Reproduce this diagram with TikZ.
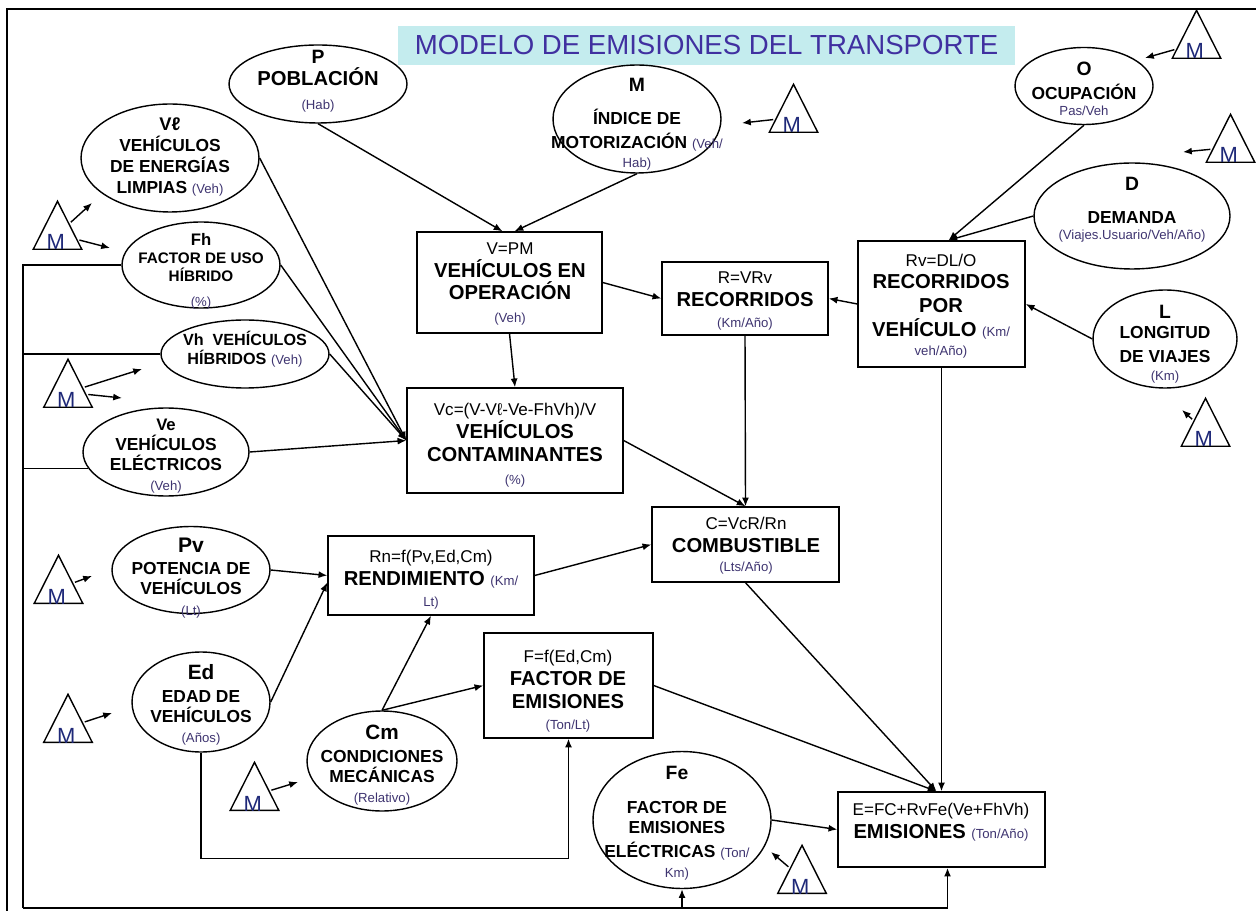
\documentclass[tikz,border=0pt]{standalone}
\usepackage{fontspec}
\setmainfont{Liberation Sans}
\usetikzlibrary{shapes.geometric,arrows.meta,calc}
\definecolor{titlecyan}{RGB}{196,236,238}
\definecolor{titleblue}{RGB}{64,48,160}
\definecolor{unitblue}{RGB}{62,52,112}
\definecolor{mnavy}{RGB}{30,40,120}
\newcommand{\sym}[1]{{\fontsize{11}{13}\selectfont\bfseries #1}}
\newcommand{\unt}[1]{{\fontsize{7.5}{9}\selectfont\mdseries\color{unitblue}#1}}
\newcommand{\frm}[1]{{\fontsize{9.7}{12}\selectfont\mdseries #1}}

\begin{document}
\begin{tikzpicture}[
    x=0.02cm, y=-0.02cm,
    >={Latex[length=5pt,width=4pt]},
    line width=0.8pt,
    oval/.style={draw, ellipse, inner sep=0pt},
    box/.style={draw, rectangle, inner sep=0pt},
    tri/.style={draw, isosceles triangle, isosceles triangle stretches,
      shape border rotate=90, minimum width=0.97cm, minimum height=0.96cm,
      inner sep=0pt, anchor=lower side},
    txt/.style={align=center, inner sep=0pt, font=\fontsize{9.9}{11.5}\selectfont\bfseries},
    boxtxt/.style={align=center, inner sep=0pt, font=\fontsize{11.5}{13}\selectfont\bfseries},
    mlbl/.style={anchor=base, inner sep=0pt, text=mnavy, font=\fontsize{12.5}{14}\selectfont},
  ]
  \useasboundingbox (0,0) rectangle (1256,911);
  \draw[line width=1.2pt] (7,911) -- (7,9) -- (1256,9);

  \node[fill=titlecyan, minimum width=12.34cm, minimum height=0.78cm, inner sep=0pt,
    text=titleblue, font=\fontsize{15.7}{18}\selectfont] (title) at (706.5,45.5)
    {MODELO DE EMISIONES DEL TRANSPORTE};

  % ellipses
  \node[oval, minimum width=3.56cm, minimum height=1.56cm] (P) at (318,84) {};
  \node[oval, minimum width=3.36cm, minimum height=2.16cm] (MI) at (637,119) {};
  \node[oval, minimum width=3.56cm, minimum height=2.16cm] (Vl) at (170,158) {};
  \node[oval, minimum width=3.16cm, minimum height=1.72cm] (Fh) at (201,265) {};
  \node[oval, minimum width=3.36cm, minimum height=1.36cm] (Vh) at (245,354) {};
  \node[oval, minimum width=3.32cm, minimum height=1.76cm] (Ve) at (166,452) {};
  \node[oval, minimum width=3.16cm, minimum height=1.74cm] (Pv) at (191,570) {};
  \node[oval, minimum width=2.76cm, minimum height=2.00cm] (Ed) at (201,702) {};
  \node[oval, minimum width=3.00cm, minimum height=2.00cm] (Cm) at (382,761) {};
  \node[oval, minimum width=3.56cm, minimum height=2.74cm] (Fe) at (682,820) {};
  \node[oval, minimum width=2.76cm, minimum height=1.54cm] (O) at (1084,86) {};
  \node[oval, minimum width=3.92cm, minimum height=2.12cm] (D) at (1132,216) {};
  \node[oval, minimum width=2.88cm, minimum height=1.96cm] (L) at (1165,339) {};

  \node[txt] at (318,81) {\sym{P}\\[1pt]{\fontsize{11.5}{13}\selectfont POBLACIÓN}\\[2pt]\unt{(Hab)}};
  \node[txt] at (637,124) {\sym{M}\\[7pt]ÍNDICE DE\\[2.5pt]MOTORIZACIÓN \unt{(Veh/}\\[-1pt]\unt{Hab)}};
  \node[txt] at (170,157) {{\fontsize{10.4}{12}\selectfont Vℓ}\\[0.5pt]VEHÍCULOS\\[0.5pt]DE ENERGÍAS\\[0.5pt]LIMPIAS \unt{(Veh)}};
  \node[txt, font=\fontsize{8.7}{10.3}\selectfont\bfseries] at (201,271)
    {{\fontsize{9.5}{11}\selectfont Fh}\\FACTOR DE USO\\HÍBRIDO\\[4pt]\unt{(\%)}};
  \node[txt, font=\fontsize{9.2}{11}\selectfont\bfseries] at (245,349) {Vh~~VEHÍCULOS\\HÍBRIDOS \unt{(Veh)}};
  \node[txt] at (166,456) {{\fontsize{9.5}{11}\selectfont Ve}\\VEHÍCULOS\\ELÉCTRICOS\\\unt{(Veh)}};
  \node[txt] at (191,578) {{\fontsize{12}{14}\selectfont Pv}\\[1pt]POTENCIA DE\\VEHÍCULOS\\\unt{(Lt)}};
  \node[txt] at (201,705) {{\fontsize{11.8}{14}\selectfont Ed}\\[1.5pt]EDAD DE\\VEHÍCULOS\\\unt{(Años)}};
  \node[txt] at (382,765) {{\fontsize{11.8}{14}\selectfont Cm}\\[1.5pt]CONDICIONES\\MECÁNICAS\\\unt{(Relativo)}};
  \node[txt] at (677,823) {\sym{Fe}\\[8pt]FACTOR DE\\EMISIONES\\[2pt]ELÉCTRICAS \unt{(Ton/}\\\unt{Km)}};
  \node[txt] at (1084,89) {\sym{O}\\[2pt]OCUPACIÓN\\[-2pt]\unt{Pas/Veh}};
  \node[txt] at (1132,210) {\sym{D}\\[7pt]DEMANDA\\[-2pt]\unt{(Viajes.Usuario/Veh/Año)}};
  \node[txt] at (1165,344) {\sym{L}\\LONGITUD\\[2pt]DE VIAJES\\[-1pt]\unt{(Km)}};

  % boxes
  \node[box, minimum width=3.70cm, minimum height=2.02cm] (V) at (509.5,282.5) {};
  \node[box, minimum width=3.32cm, minimum height=1.46cm] (R) at (745,298.5) {};
  \node[box, minimum width=3.34cm, minimum height=2.52cm] (Rv) at (941.5,304) {};
  \node[box, minimum width=4.32cm, minimum height=2.10cm] (Vc) at (515,440.5) {};
  \node[box, minimum width=3.74cm, minimum height=1.50cm] (C) at (745.5,544.5) {};
  \node[box, minimum width=4.12cm, minimum height=1.58cm] (Rn) at (431,575.5) {};
  \node[box, minimum width=3.38cm, minimum height=2.10cm] (F) at (568.5,685.5) {};
  \node[box, minimum width=4.14cm, minimum height=1.50cm] (E) at (941.5,829.5) {};

  \node[boxtxt] at (510,284) {\frm{V=PM}\\VEHÍCULOS EN\\OPERACIÓN\\\unt{(Veh)}};
  \node[boxtxt] at (745,301) {\frm{R=VRv}\\RECORRIDOS\\[-1pt]\unt{(Km/Año)}};
  \node[boxtxt] at (941,306) {\frm{Rv=DL/O}\\RECORRIDOS\\[0.5pt]POR\\[0.5pt]VEHÍCULO \unt{(Km/}\\[-2pt]\unt{veh/Año)}};
  \node[boxtxt] at (515,445) {\frm{Vc=(V-Vℓ-Ve-FhVh)/V}\\VEHÍCULOS\\CONTAMINANTES\\\unt{(\%)}};
  \node[boxtxt] at (746,546) {\frm{C=VcR/Rn}\\COMBUSTIBLE\\[-2pt]\unt{(Lts/Año)}};
  \node[boxtxt] at (431,580) {\frm{Rn=f(Pv,Ed,Cm)}\\RENDIMIENTO \unt{(Km/}\\[-1pt]\unt{Lt)}};
  \node[boxtxt] at (568,691) {\frm{F=f(Ed,Cm)}\\FACTOR DE\\EMISIONES\\[-1pt]\unt{(Ton/Lt)}};
  \node[boxtxt] at (941,822) {\frm{E=FC+RvFe(Ve+FhVh)}\\EMISIONES \unt{(Ton/Año)}};

  % M triangles
  \foreach \n/\x/\y in {tMI/793.5/133, tO/1196.5/59, tD/1230.5/163, tL/1205.5/447,
      tVl/57.5/250, tVh/68/408, tPv/58.5/604, tEd/68/743, tCm/254.5/811, tFe/802/894}
    {\node[tri] (\n) at (\x,\y) {};
     \node[mlbl, xshift=-1pt] at (\n.lower side) {M};}

  \coordinate (aMI) at (742,123);
  \coordinate (aO) at (1145,58);
  \coordinate (aD) at (1183,152);
  \coordinate (aL) at (1182,410);
  \coordinate (aVl) at (92,203);
  \coordinate (aFh) at (110,248);
  \coordinate (aVh) at (142,369);
  \coordinate (aVe) at (122,398);
  \coordinate (aPv) at (92,576);
  \coordinate (aEd) at (112,713);
  \coordinate (aCm) at (298,782);
  \coordinate (aFe) at (771,852);
  \foreach \t/\a in {tMI/aMI, tO/aO, tD/aD, tL/aL, tVl/aVl, tVl/aFh, tVh/aVh,
      tVh/aVe, tPv/aPv, tEd/aEd, tCm/aCm, tFe/aFe}
    \draw[->, shorten <=1pt] (\t) -- (\a);

  % connectors
  \draw[->] (P.south) -- ($(V.north)+(-7,0)$);
  \draw[->] (MI.south) -- ($(V.north)+(5,0)$);
  \draw[->] (V.east) -- (R.west);
  \draw[->] (Rv.west) -- (R.east);
  \draw[->] (O.south) -- ($(Rv.north)+(7,0)$);
  \draw[->] (D.west) -- ($(Rv.north)+(7,0)$);
  \draw[->] (L.west) -- (Rv.east);
  \draw[->] (V.south) -- (Vc.north);
  \foreach \s in {Vl,Fh,Vh,Ve}
    \draw[->] (\s.east) -- (Vc.west);
  \draw[->] (Vc.east) -- (C.north);
  \draw[->] (R.south) -- (C.north);
  \draw[->] (Rn.east) -- (C.west);
  \draw[->] (Pv.east) -- (Rn.west);
  \draw[->] (Ed.east) -- ($(Rn.west)+(0,7)$);
  \draw[->] (Cm.north) -- (Rn.south);
  \draw[->] (Cm.north) -- (F.west);
  \draw[->] (Ed.south) -- ++(0,106) -| (F.south);
  \draw[->] (F.east) -- ($(E.north)+(-5,0)$);
  \draw[->] (C.south) -- ($(E.north)+(-5,0)$);
  \draw[->] (Rv.south) -- (E.north);
  \draw[->] (Fe.east) -- (E.west);

  % left bus
  \coordinate (bus) at (23,908);
  \draw[line width=1.1pt] (Fh.west) -| (bus);
  \draw[line width=1.1pt] (Vh.west) -- (Vh.west -| bus);
  \draw[line width=1.1pt] (Ve.192) -- (Ve.192 -| bus);
  \draw[->, line width=1.1pt] (bus) -| ($(E.south)+(6,0)$);
  \draw[->] (bus -| Fe.south) -- (Fe.south);
\end{tikzpicture}
\end{document}
